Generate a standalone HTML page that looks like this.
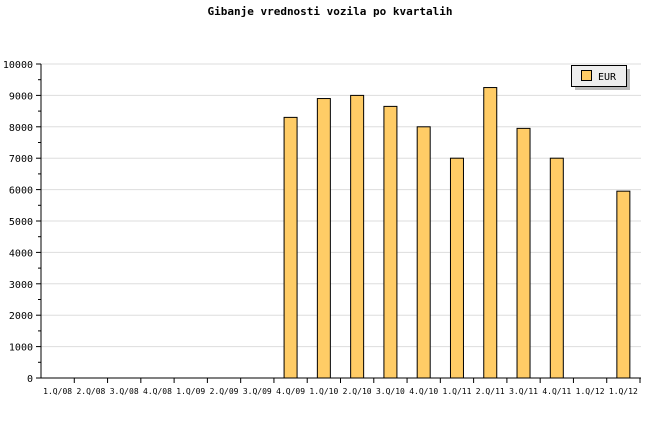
<!DOCTYPE html>
<html><head><style>body{margin:0;background:#fff}svg{display:block}text{font-family:"DejaVu Sans Mono","Liberation Mono",monospace;fill:#000}</style></head>
<body>
<svg width="660" height="440" xmlns="http://www.w3.org/2000/svg">
<text x="330" y="15" text-anchor="middle" font-size="11" font-weight="bold">Gibanje vrednosti vozila po kvartalih</text>
<g stroke="#dddddd">
<line x1="41" x2="641" y1="346.6" y2="346.6"/><line x1="41" x2="641" y1="315.2" y2="315.2"/><line x1="41" x2="641" y1="283.8" y2="283.8"/><line x1="41" x2="641" y1="252.4" y2="252.4"/><line x1="41" x2="641" y1="221" y2="221"/><line x1="41" x2="641" y1="189.6" y2="189.6"/><line x1="41" x2="641" y1="158.2" y2="158.2"/><line x1="41" x2="641" y1="126.8" y2="126.8"/><line x1="41" x2="641" y1="95.4" y2="95.4"/><line x1="41" x2="641" y1="64" y2="64"/>
</g>
<g stroke="#000">
<line x1="36" x2="41" y1="378" y2="378"/><line x1="36" x2="41" y1="346.6" y2="346.6"/><line x1="36" x2="41" y1="315.2" y2="315.2"/><line x1="36" x2="41" y1="283.8" y2="283.8"/><line x1="36" x2="41" y1="252.4" y2="252.4"/><line x1="36" x2="41" y1="221" y2="221"/><line x1="36" x2="41" y1="189.6" y2="189.6"/><line x1="36" x2="41" y1="158.2" y2="158.2"/><line x1="36" x2="41" y1="126.8" y2="126.8"/><line x1="36" x2="41" y1="95.4" y2="95.4"/><line x1="36" x2="41" y1="64" y2="64"/>
<line x1="38" x2="41" y1="362.3" y2="362.3"/><line x1="38" x2="41" y1="330.9" y2="330.9"/><line x1="38" x2="41" y1="299.5" y2="299.5"/><line x1="38" x2="41" y1="268.1" y2="268.1"/><line x1="38" x2="41" y1="236.7" y2="236.7"/><line x1="38" x2="41" y1="205.3" y2="205.3"/><line x1="38" x2="41" y1="173.9" y2="173.9"/><line x1="38" x2="41" y1="142.5" y2="142.5"/><line x1="38" x2="41" y1="111.1" y2="111.1"/><line x1="38" x2="41" y1="79.7" y2="79.7"/>
</g>
<g font-size="10" text-anchor="end">
<text x="33" y="382">0</text><text x="33" y="350.6">1000</text><text x="33" y="319.2">2000</text><text x="33" y="287.8">3000</text><text x="33" y="256.4">4000</text><text x="33" y="225">5000</text><text x="33" y="193.6">6000</text><text x="33" y="162.2">7000</text><text x="33" y="130.8">8000</text><text x="33" y="99.4">9000</text><text x="33" y="68">10000</text>
</g>
<g fill="#ffcc66" stroke="#000">
<rect x="284.08" y="117.38" width="13" height="260.62"/>
<rect x="317.36" y="98.54" width="13" height="279.46"/>
<rect x="350.64" y="95.4" width="13" height="282.6"/>
<rect x="383.92" y="106.39" width="13" height="271.61"/>
<rect x="417.19" y="126.8" width="13" height="251.2"/>
<rect x="450.47" y="158.2" width="13" height="219.8"/>
<rect x="483.75" y="87.55" width="13" height="290.45"/>
<rect x="517.03" y="128.37" width="13" height="249.63"/>
<rect x="550.31" y="158.2" width="13" height="219.8"/>
<rect x="616.86" y="191.17" width="13" height="186.83"/>
</g>
<g stroke="#000">
<line x1="74.28" x2="74.28" y1="378" y2="383"/><line x1="107.56" x2="107.56" y1="378" y2="383"/><line x1="140.83" x2="140.83" y1="378" y2="383"/><line x1="174.11" x2="174.11" y1="378" y2="383"/><line x1="207.39" x2="207.39" y1="378" y2="383"/><line x1="240.67" x2="240.67" y1="378" y2="383"/><line x1="273.94" x2="273.94" y1="378" y2="383"/><line x1="307.22" x2="307.22" y1="378" y2="383"/><line x1="340.5" x2="340.5" y1="378" y2="383"/><line x1="373.78" x2="373.78" y1="378" y2="383"/><line x1="407.06" x2="407.06" y1="378" y2="383"/><line x1="440.33" x2="440.33" y1="378" y2="383"/><line x1="473.61" x2="473.61" y1="378" y2="383"/><line x1="506.89" x2="506.89" y1="378" y2="383"/><line x1="540.17" x2="540.17" y1="378" y2="383"/><line x1="573.44" x2="573.44" y1="378" y2="383"/><line x1="606.72" x2="606.72" y1="378" y2="383"/><line x1="640" x2="640" y1="378" y2="383"/>
<line x1="41" x2="41" y1="64" y2="378"/><line x1="41" x2="641" y1="378" y2="378"/>
</g>
<g font-size="8" text-anchor="middle">
<text x="57.64" y="394">1.Q/08</text><text x="90.92" y="394">2.Q/08</text><text x="124.2" y="394">3.Q/08</text><text x="157.47" y="394">4.Q/08</text><text x="190.75" y="394">1.Q/09</text><text x="224.03" y="394">2.Q/09</text><text x="257.31" y="394">3.Q/09</text><text x="290.58" y="394">4.Q/09</text><text x="323.86" y="394">1.Q/10</text><text x="357.14" y="394">2.Q/10</text><text x="390.42" y="394">3.Q/10</text><text x="423.69" y="394">4.Q/10</text><text x="456.97" y="394">1.Q/11</text><text x="490.25" y="394">2.Q/11</text><text x="523.53" y="394">3.Q/11</text><text x="556.81" y="394">4.Q/11</text><text x="590.08" y="394">1.Q/12</text><text x="623.36" y="394">1.Q/12</text>
</g>
<rect x="575" y="69" width="55" height="21" fill="#bbbbbb"/>
<rect x="571.5" y="65.5" width="55" height="21" fill="#eeeeee" stroke="#000"/>
<rect x="581.5" y="70.5" width="10" height="10" fill="#ffcc66" stroke="#000"/>
<text x="598" y="80" font-size="10">EUR</text>
</svg>
</body></html>
